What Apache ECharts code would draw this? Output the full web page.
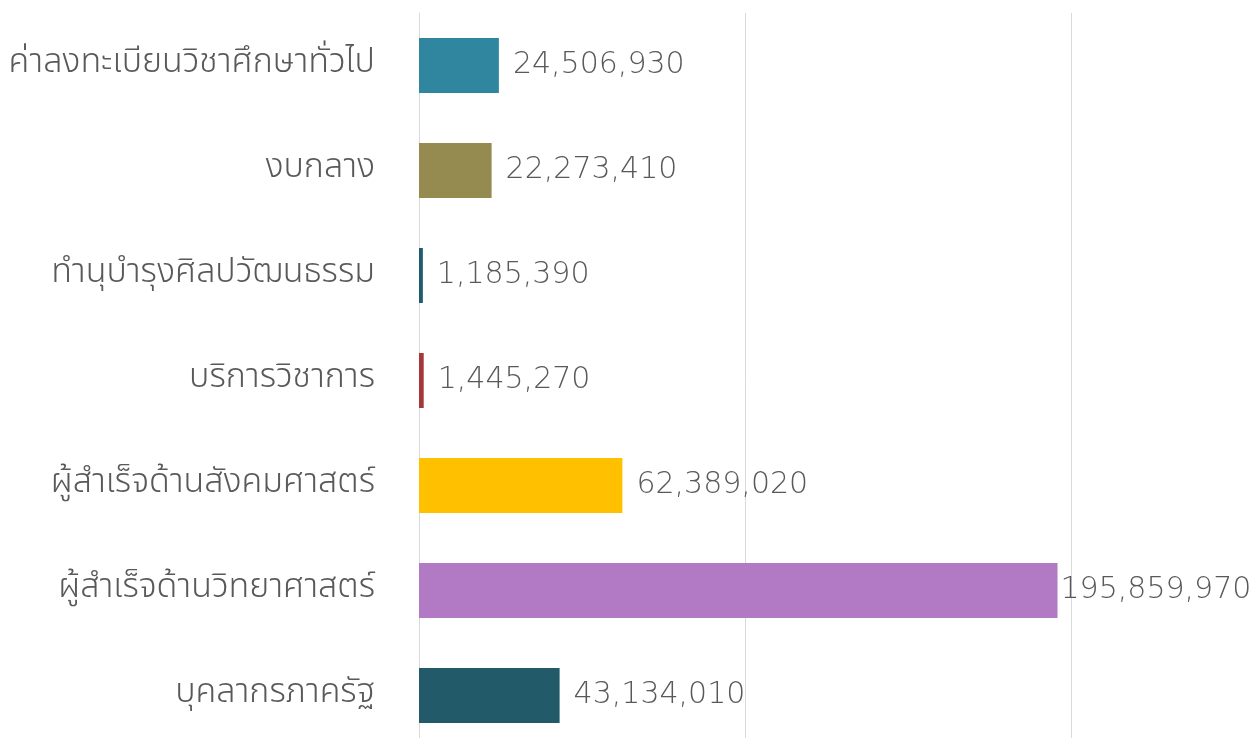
<!DOCTYPE html>
<html>
<head>
  <meta charset="UTF-8">
  <title>ECharts</title>
  <script src="https://cdn.jsdelivr.net/npm/echarts@6/dist/echarts.min.js"></script>
</head>
<body style="margin: 0; background-color: #ffffff; overflow: hidden;">
  <div id="main" style="width: 1252px; height: 760px;"></div>
  <script type="text/javascript">
    var categories = [
      'ค่าลงทะเบียนวิชาศึกษาทั่วไป',
      'งบกลาง',
      'ทำนุบำรุงศิลปวัฒนธรรม',
      'บริการวิชาการ',
      'ผู้สำเร็จด้านสังคมศาสตร์',
      'ผู้สำเร็จด้านวิทยาศาสตร์',
      'บุคลากรภาครัฐ'
    ];
    var values = [24506930, 22273410, 1185390, 1445270, 62389020, 195859970, 43134010];
    var colors = ['#31869f', '#958a50', '#1f5c6c', '#a5363a', '#ffc000', '#b279c4', '#225a69'];

    var myChart = echarts.init(document.getElementById('main'));

    var option = {
      backgroundColor: '#ffffff',
      animation: false,
      grid: {
        left: 419,
        top: 13,
        width: 652,
        height: 735
      },
      xAxis: {
        type: 'value',
        min: 0,
        max: 200000000,
        interval: 100000000,
        axisLabel: { show: false },
        axisLine: { show: false },
        axisTick: { show: false },
        splitLine: { lineStyle: { color: '#d9d9d9', width: 1 } }
      },
      yAxis: {
        type: 'category',
        inverse: true,
        data: categories,
        axisTick: { show: false },
        axisLine: { show: true, lineStyle: { color: '#d9d9d9' } },
        axisLabel: {
          margin: 44,
          color: '#595959',
          fontSize: 34,
          fontWeight: 300,
          fontFamily: '"Noto Sans Thai", "Noto Sans", sans-serif'
        }
      },
      series: [{
        type: 'bar',
        barWidth: 55,
        data: values.map(function (v, i) {
          var item = { value: v, itemStyle: { color: colors[i] } };
          // the longest bar's label sits tight against the bar so it fits
          if (v === Math.max.apply(null, values)) {
            item.label = { distance: 3 };
          }
          return item;
        }),
        label: {
          show: true,
          position: 'right',
          distance: 14,
          color: '#595959',
          fontSize: 30,
          fontWeight: 200,
          fontFamily: '"DejaVu Sans", sans-serif',
          formatter: function (p) {
            return p.value.toLocaleString('en-US');
          }
        }
      }]
    };

    myChart.setOption(option);
  </script>
</body>
</html>
